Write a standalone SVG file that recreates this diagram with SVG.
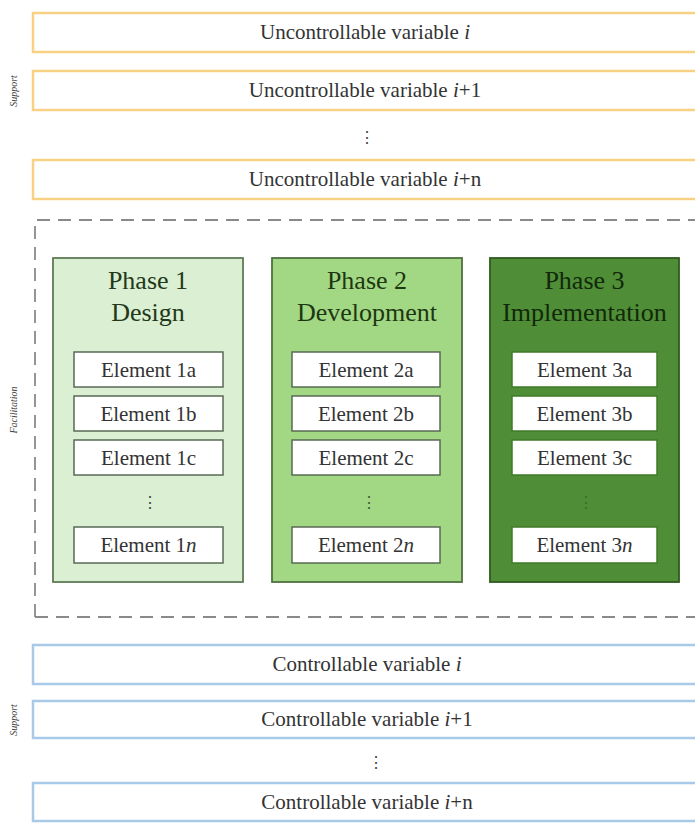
<svg xmlns="http://www.w3.org/2000/svg" width="695" height="825" viewBox="0 0 695 825">
<style>
  .bg{fill:#ffffff}
  .ubox{fill:#ffffff;stroke:#f9d184;stroke-width:2.5}
  .cbox{fill:#ffffff;stroke:#a9c9e8;stroke-width:2.5}
  .vtxt{font-family:"Liberation Serif",serif;font-size:21px;fill:#333333;text-anchor:middle}
  .side{font-family:"Liberation Serif",serif;font-size:10px;font-style:italic;fill:#444444;text-anchor:middle}
  .dots{font-family:"DejaVu Serif",serif;font-size:16px;fill:#444444;text-anchor:middle}
  .ph1{fill:#dbefd3;stroke:#5f7a56;stroke-width:1.8}
  .ph2{fill:#a2d783;stroke:#4f7040;stroke-width:1.8}
  .ph3{fill:#4f8d36;stroke:#2f5a1f;stroke-width:1.8}
  .ptxt{font-family:"Liberation Serif",serif;font-size:26px;text-anchor:middle}
  .el{fill:#ffffff;stroke:#5a6a55;stroke-width:1.5}
  .el3{fill:#ffffff;stroke:#3f7a29;stroke-width:1.5}
  .etxt{font-family:"Liberation Serif",serif;font-size:21px;fill:#333333;text-anchor:middle}
  .dash{fill:none;stroke:#8a8a8a;stroke-width:1.8;stroke-dasharray:13 8}
  .it{font-style:italic}
</style>
<rect class="bg" x="0" y="0" width="695" height="825"/>

<g id="uncontrollable">
  <g id="u1"><rect class="ubox" x="33" y="13" width="670" height="39"/><text class="vtxt" x="365" y="39">Uncontrollable variable <tspan class="it">i</tspan></text></g>
  <g id="u2"><rect class="ubox" x="33" y="71" width="670" height="39"/><text class="vtxt" x="365" y="97">Uncontrollable variable <tspan class="it">i</tspan>+1</text></g>
  <text class="dots" x="367" y="143">⋮</text>
  <g id="u3"><rect class="ubox" x="33" y="160" width="670" height="39"/><text class="vtxt" x="365" y="186">Uncontrollable variable <tspan class="it">i</tspan>+n</text></g>
  <text class="side" transform="translate(17,91) rotate(-90)">Support</text>
</g>

<g id="facilitation">
  <path class="dash" d="M35 617 L35 220 L705 220"/>
  <path class="dash" d="M35 617 L705 617"/>
  <text class="side" transform="translate(17,410) rotate(-90)">Facilitation</text>
</g>

<g id="phase1">
  <rect class="ph1" x="53" y="258" width="190" height="324"/>
  <text class="ptxt" fill="#22381a" x="148" y="289">Phase 1</text>
  <text class="ptxt" fill="#22381a" x="148" y="321">Design</text>
  <g id="e1a"><rect class="el" x="74" y="352" width="149" height="35"/><text class="etxt" x="148.5" y="377">Element 1a</text></g>
  <g id="e1b"><rect class="el" x="74" y="396" width="149" height="35"/><text class="etxt" x="148.5" y="421">Element 1b</text></g>
  <g id="e1c"><rect class="el" x="74" y="440" width="149" height="35"/><text class="etxt" x="148.5" y="465">Element 1c</text></g>
  <text class="dots" x="150" y="508">⋮</text>
  <g id="e1n"><rect class="el" x="74" y="527" width="149" height="36"/><text class="etxt" x="148.5" y="552">Element 1<tspan class="it">n</tspan></text></g>
</g>

<g id="phase2">
  <rect class="ph2" x="272" y="258" width="190" height="324"/>
  <text class="ptxt" fill="#1d3712" x="367" y="289">Phase 2</text>
  <text class="ptxt" fill="#1d3712" x="367" y="321">Development</text>
  <g id="e2a"><rect class="el" x="292" y="352" width="148" height="35"/><text class="etxt" x="366" y="377">Element 2a</text></g>
  <g id="e2b"><rect class="el" x="292" y="396" width="148" height="35"/><text class="etxt" x="366" y="421">Element 2b</text></g>
  <g id="e2c"><rect class="el" x="292" y="440" width="148" height="35"/><text class="etxt" x="366" y="465">Element 2c</text></g>
  <text class="dots" fill="#3d5e2d" style="fill:#3d5e2d" x="369" y="508">⋮</text>
  <g id="e2n"><rect class="el" x="292" y="527" width="148" height="36"/><text class="etxt" x="366" y="552">Element 2<tspan class="it">n</tspan></text></g>
</g>

<g id="phase3">
  <rect class="ph3" x="490" y="258" width="189" height="324"/>
  <text class="ptxt" fill="#12280b" x="584.5" y="289">Phase 3</text>
  <text class="ptxt" fill="#12280b" x="584.5" y="321">Implementation</text>
  <g id="e3a"><rect class="el3" x="512" y="352" width="145" height="35"/><text class="etxt" x="584.5" y="377">Element 3a</text></g>
  <g id="e3b"><rect class="el3" x="512" y="396" width="145" height="35"/><text class="etxt" x="584.5" y="421">Element 3b</text></g>
  <g id="e3c"><rect class="el3" x="512" y="440" width="145" height="35"/><text class="etxt" x="584.5" y="465">Element 3c</text></g>
  <text class="dots" style="fill:#3a6e25" x="586" y="508">⋮</text>
  <g id="e3n"><rect class="el3" x="512" y="527" width="145" height="36"/><text class="etxt" x="584.5" y="552">Element 3<tspan class="it">n</tspan></text></g>
</g>

<g id="controllable">
  <g id="c1"><rect class="cbox" x="33" y="645" width="670" height="39"/><text class="vtxt" x="367" y="671">Controllable variable <tspan class="it">i</tspan></text></g>
  <g id="c2"><rect class="cbox" x="33" y="701" width="670" height="37"/><text class="vtxt" x="367" y="726">Controllable variable <tspan class="it">i</tspan>+1</text></g>
  <text class="dots" x="376" y="768">⋮</text>
  <g id="c3"><rect class="cbox" x="33" y="783" width="670" height="38"/><text class="vtxt" x="367" y="809">Controllable variable <tspan class="it">i</tspan>+n</text></g>
  <text class="side" transform="translate(17,720) rotate(-90)">Support</text>
</g>

<g id="connectors"></g>
</svg>
